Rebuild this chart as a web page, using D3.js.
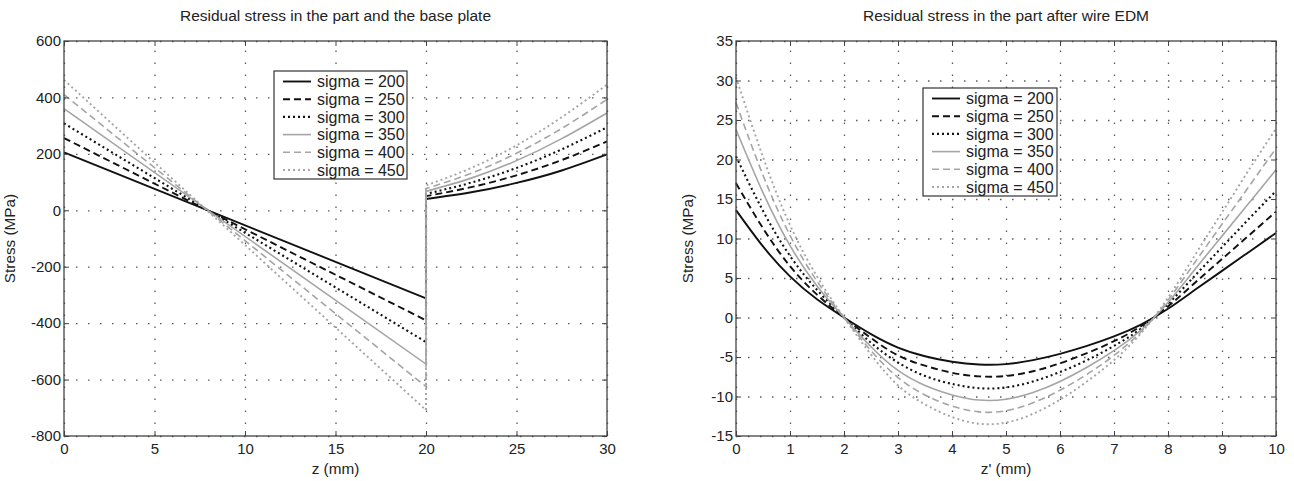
<!DOCTYPE html>
<html>
<head>
<meta charset="utf-8">
<script src="https://cdn.jsdelivr.net/npm/d3@7"></script>
<style>
  body { margin: 0; background: #fff; }
  svg { font-family: "Liberation Sans", Arial, sans-serif; }
  .axis path { display: none; }
  .axis line { stroke: #444; stroke-width: 1; }
  .axis text { font-size: 15px; fill: #222; }
  .grid path { display: none; }
  .grid line { stroke: #5a5a5a; stroke-width: 1.3; stroke-dasharray: 1.5,10.5; }
  .frame { fill: none; stroke: #444; stroke-width: 1.3; }
  .title { font-size: 15.5px; fill: #222; }
  .axis-label { font-size: 15.3px; fill: #222; }
  .legend text { font-size: 16px; fill: #222; }
</style>
</head>
<body>
<svg id="chart" width="1294" height="481"></svg>
<script>
const sigmaLabels = ['sigma = 200', 'sigma = 250', 'sigma = 300', 'sigma = 350', 'sigma = 400', 'sigma = 450'];
const lineColors = ['#111', '#111', '#111', '#a5a5a5', '#a5a5a5', '#a5a5a5'];
const lineDashes = [null, '7,4', '2,3', null, '7,4', '2,3'];
const lineWidths = [1.9, 1.9, 2.1, 1.6, 1.6, 1.9];

// left panel: the part (z 0..20) is straight, the base plate (z 20..30) curves up
const partZ = [0, 20];
const partStress = [
  [205, -312],
  [256, -390],
  [308, -467],
  [360, -545],
  [410, -625],
  [462, -708]
];
const baseZ = [20, 22.5, 25, 27.5, 30];
const baseStress = [
  [40, 64, 97, 141, 198],
  [50, 82, 124, 178, 244],
  [58, 98, 150, 216, 294],
  [67, 114, 176, 254, 345],
  [77, 131, 202, 290, 393],
  [88, 150, 230, 330, 445]
];

// right panel: after wire EDM
const edmZ = [0, 0.5, 1, 1.5, 2, 2.5, 3, 3.5, 4, 4.5, 5, 5.5, 6, 6.5, 7, 7.5, 8, 8.5, 9, 9.5, 10];
const edmStress = [
  [13.6, 9.0, 5.2, 2.3, 0, -2.1, -3.8, -4.9, -5.6, -5.95, -5.9, -5.4, -4.6, -3.6, -2.4, -0.9, 1.1, 3.5, 5.9, 8.3, 10.7],
  [17.0, 11.3, 6.5, 2.9, 0, -2.6, -4.8, -6.1, -7.0, -7.45, -7.4, -6.8, -5.8, -4.5, -3.0, -1.1, 1.4, 4.4, 7.4, 10.4, 13.4],
  [20.4, 13.5, 7.8, 3.5, 0, -3.2, -5.7, -7.4, -8.4, -8.95, -8.85, -8.1, -6.9, -5.4, -3.6, -1.4, 1.7, 5.3, 8.9, 12.5, 16.0],
  [23.8, 15.8, 9.1, 4.0, 0, -3.7, -6.7, -8.6, -9.8, -10.45, -10.35, -9.5, -8.1, -6.3, -4.2, -1.6, 1.9, 6.1, 10.3, 14.5, 18.7],
  [27.2, 18.0, 10.4, 4.6, 0, -4.2, -7.6, -9.8, -11.2, -11.95, -11.8, -10.8, -9.2, -7.2, -4.8, -1.8, 2.2, 7.0, 11.8, 16.6, 21.4],
  [30.4, 20.3, 11.7, 5.2, 0, -4.7, -8.6, -11.0, -12.6, -13.45, -13.3, -12.2, -10.4, -8.1, -5.4, -2.0, 2.5, 7.9, 13.3, 18.7, 23.9]
];

const leftXTicks = [0, 5, 10, 15, 20, 25, 30];
const leftYTicks = [-800, -600, -400, -200, 0, 200, 400, 600];
const rightXTicks = [0, 1, 2, 3, 4, 5, 6, 7, 8, 9, 10];
const rightYTicks = [-15, -10, -5, 0, 5, 10, 15, 20, 25, 30, 35];

const svg = d3.select('#chart');
const plain = d => String(d); // hyphen minus, like the original

function drawPanel(p) {
  const innerWidth = p.right - p.left;
  const innerHeight = p.bottom - p.top;

  const xScale = d3.scaleLinear().domain(p.xDomain).range([0, innerWidth]);
  const yScale = d3.scaleLinear().domain(p.yDomain).range([innerHeight, 0]);

  const g = svg.append('g')
      .attr('transform', `translate(${p.left},${p.top})`);

  // dotted grid
  g.append('g')
      .attr('class', 'grid')
      .attr('transform', `translate(0,${innerHeight})`)
      .call(d3.axisBottom(xScale).tickValues(p.xTicks).tickSize(-innerHeight).tickFormat(''));
  g.append('g')
      .attr('class', 'grid')
      .call(d3.axisLeft(yScale).tickValues(p.yTicks).tickSize(-innerWidth).tickFormat(''));

  // curves
  const dataG = g.append('g');
  p.paths(xScale, yScale).forEach((d, i) => {
    dataG.append('path')
        .attr('d', d)
        .attr('fill', 'none')
        .attr('stroke', lineColors[i])
        .attr('stroke-width', lineWidths[i])
        .attr('stroke-dasharray', lineDashes[i]);
  });

  // box with inward ticks on every side
  g.append('rect')
      .attr('class', 'frame')
      .attr('width', innerWidth)
      .attr('height', innerHeight);
  g.append('g')
      .attr('class', 'axis')
      .attr('transform', `translate(0,${innerHeight})`)
      .call(d3.axisBottom(xScale).tickValues(p.xTicks).tickSize(-5).tickPadding(7).tickFormat(plain));
  g.append('g')
      .attr('class', 'axis')
      .call(d3.axisTop(xScale).tickValues(p.xTicks).tickSize(-5).tickFormat(''));
  g.append('g')
      .attr('class', 'axis')
      .call(d3.axisLeft(yScale).tickValues(p.yTicks).tickSize(-5).tickPadding(3).tickFormat(plain));
  g.append('g')
      .attr('class', 'axis')
      .attr('transform', `translate(${innerWidth},0)`)
      .call(d3.axisRight(yScale).tickValues(p.yTicks).tickSize(-5).tickFormat(''));

  g.append('text')
      .attr('class', 'title')
      .attr('x', innerWidth / 2)
      .attr('y', -20)
      .attr('text-anchor', 'middle')
      .text(p.title);
  g.append('text')
      .attr('class', 'axis-label')
      .attr('x', innerWidth / 2)
      .attr('y', innerHeight + 38)
      .attr('text-anchor', 'middle')
      .text(p.xLabel);
  g.append('text')
      .attr('class', 'axis-label')
      .attr('transform', `translate(${p.yLabelX},${innerHeight / 2}) rotate(-90)`)
      .attr('text-anchor', 'middle')
      .text('Stress (MPa)');

  // legend
  const lg = g.append('g')
      .attr('class', 'legend')
      .attr('transform', `translate(${p.legend[0]},${p.legend[1]})`);
  lg.append('rect')
      .attr('width', p.legend[2])
      .attr('height', 108)
      .attr('fill', '#fff')
      .attr('stroke', '#333')
      .attr('stroke-width', 1.2);
  const rows = lg.selectAll('.row').data(sigmaLabels).enter().append('g')
      .attr('class', 'row')
      .attr('transform', (d, i) => `translate(0,${10.5 + i * 17.7})`);
  rows.append('line')
      .attr('x1', 9).attr('x2', 37)
      .attr('stroke', (d, i) => lineColors[i])
      .attr('stroke-width', (d, i) => lineWidths[i])
      .attr('stroke-dasharray', (d, i) => lineDashes[i]);
  rows.append('text')
      .attr('x', 43)
      .attr('dy', '0.36em')
      .text(d => d);
}

drawPanel({
  left: 64, right: 607, top: 41, bottom: 436,
  xDomain: [0, 30], yDomain: [-800, 600],
  xTicks: leftXTicks, yTicks: leftYTicks,
  title: 'Residual stress in the part and the base plate',
  xLabel: 'z (mm)',
  yLabelX: -49,
  legend: [210, 30, 133],
  paths: (x, y) => partStress.map((ps, i) => {
    const part = d3.line()(partZ.map((z, j) => [x(z), y(ps[j])]));
    const base = d3.line().curve(d3.curveNatural)(baseZ.map((z, j) => [x(z), y(baseStress[i][j])]));
    return part + base.replace(/^M/, 'L');
  })
});

drawPanel({
  left: 736, right: 1276, top: 41, bottom: 436,
  xDomain: [0, 10], yDomain: [-15, 35],
  xTicks: rightXTicks, yTicks: rightYTicks,
  title: 'Residual stress in the part after wire EDM',
  xLabel: "z' (mm)",
  yLabelX: -43,
  legend: [187, 47, 134],
  paths: (x, y) => edmStress.map(vals =>
    d3.line().curve(d3.curveNatural)(edmZ.map((z, j) => [x(z), y(vals[j])])))
});
</script>
</body>
</html>
